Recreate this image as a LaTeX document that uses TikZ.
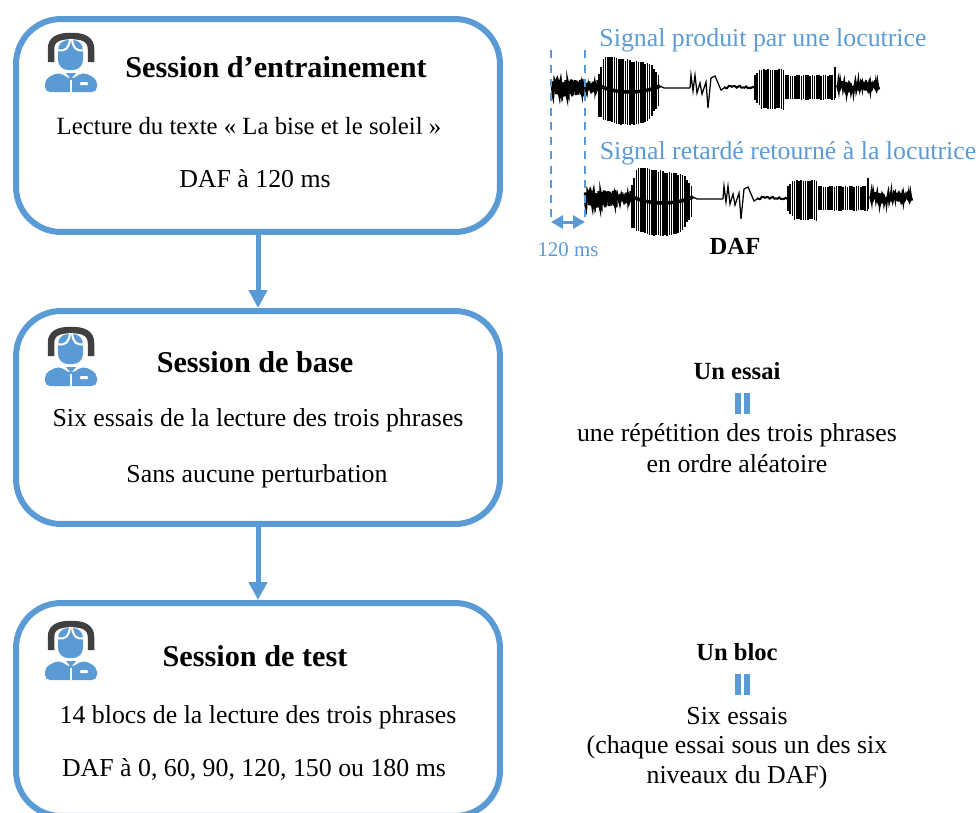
\documentclass[tikz,border=0pt]{standalone}
\usepackage{fontspec}
\setmainfont{Liberation Serif}
\usetikzlibrary{arrows.meta}

\definecolor{daf}{HTML}{5B9BD5}
\definecolor{casque}{HTML}{404040}

\tikzset{
    session/.style={draw=daf, line width=0.12cm, rounded corners=0.9cm, minimum width=9.68cm, minimum height=4.26cm, fill=white},
    titre/.style={font=\fontsize{17.2}{20}\selectfont\bfseries},
    texte/.style={font=\fontsize{14.7}{17}\selectfont},
    gras/.style={font=\fontsize{14}{17}\selectfont\bfseries},
    bleu/.style={text=daf, font=\fontsize{14.7}{17}\selectfont},
    fleche/.style={draw=daf, line width=0.1cm, -{Triangle[length=0.36cm,width=0.36cm]}},
    repere/.style={draw=daf, line width=0.04cm, dash pattern=on 0.16cm off 0.13cm},
    onde/.style={line width=0.03cm, black},
    locutrice/.pic={
        % headphones
        \draw[casque, line width=0.13cm] (-20,0) -- (-20,-13) .. controls (-20,-23) and (-12,-26) .. (0,-26) .. controls (12,-26) and (20,-23) .. (20,-13) -- (20,0);
        % face
        \fill[daf, rounded corners=0.2cm] (-13,-22) rectangle (12,8);
        \draw[white, line width=0.04cm] (-14,-12) .. controls (-5,-10) and (-2,-14) .. (-1,-23);
        \draw[white, line width=0.04cm] (14,-12) .. controls (5,-10) and (2,-14) .. (1,-23);
        % body
        \fill[daf, rounded corners=0.1cm] (-26,30) -- (-26,17) -- (-12,10) -- (0,18) -- (12,10) -- (26,17) -- (26,30) -- cycle;
        \fill[daf] (-5,11) -- (5,11) -- (0,17) -- cycle;
        \draw[white, line width=0.03cm] (0,18) -- (0,30);
        \fill[white, rounded corners=0.02cm] (9,20) rectangle (17,23);
    }
}

% speech signal, x and y in pixels from its start
\newcommand{\signal}{
    \draw[onde, line width=0.05cm] plot[domain=0:32, samples=90] (\x,{9*(2*rnd-1)+2});
    \draw[onde, line width=0.04cm] plot[domain=32:46, samples=25] (\x,{6*(2*rnd-1)});
    \foreach \t in {47,49.2,...,108} {
        \pgfmathsetmacro{\haut}{(\t<52 ? 14+3*(\t-47) : (\t>98 ? 23-(\t-98)*1.2 : 31-8*(\t-52)/46))-2*rnd}
        \pgfmathsetmacro{\bas}{(\t>96 ? 36-(\t-96)*1.5 : 32+8*sin(180*(\t-47)/60))-2*rnd}
        \draw[onde] (\t,-\haut) -- (\t,\bas);
    }
    \draw[onde, line width=0.07cm] (48,0) .. controls (65,8) and (90,8) .. (108,0);
    \draw[onde, line width=0.025cm] (108,0) -- (112,2) -- (126,2) -- (138,2);
    \draw[onde, line width=0.025cm] (138,2) -- (139,-11) -- (141,5) -- (143,-11) -- (145,7) -- (148,-3) -- (150,8) -- (154,-4) -- (156,22) -- (159,-8) -- (163,-10) -- (169,4) -- (172,2);
    \draw[onde, line width=0.04cm] plot[domain=172:202, samples=20] (\x,{1.2*(2*rnd-1)+1});
    \foreach \t in {203,205.2,...,232} {
        \pgfmathsetmacro{\haut}{17-rnd-(\t<208 ? 208-\t : 0)}
        \pgfmathsetmacro{\bas}{24-2*rnd-(\t<210 ? 1.4*(210-\t) : 0)}
        \draw[onde] (\t,-\haut) -- (\t,\bas);
    }
    \foreach \t in {234,236.2,...,283} {
        \pgfmathsetmacro{\haut}{11-rnd}
        \pgfmathsetmacro{\bas}{14-rnd}
        \draw[onde] (\t,-\haut) -- (\t,\bas);
    }
    \draw[onde] (283,-19) -- (283,12);
    \draw[onde, line width=0.05cm] plot[domain=285:327, samples=90] (\x,{(6.5-(\x-285)/14)*(2*rnd-1)+1});
}

\begin{document}
\begin{tikzpicture}[x=0.02cm, y=-0.02cm]
    \useasboundingbox (0,0) rectangle (980,812);
    \clip (0,0) rectangle (980,812);

    % Sessions
    \node[session] (entrainement) at (258,125.5) {};
    \node[session] (base) at (258,417.5) {};
    \node[session] (test) at (258,709.5) {};

    % Arrows between sessions
    \draw[fleche] (entrainement) -- (base);
    \draw[fleche] (base) -- (test);

    % Speakers
    \pic at (71,62) {locutrice};
    \pic at (71,356) {locutrice};
    \pic at (71,650) {locutrice};

    % Text of the sessions
    \node[titre] (t1) at (276,67) {Session d’entrainement};
    \node[texte, font=\fontsize{14.1}{17}\selectfont] (l1) at (249,126) {Lecture du texte « La bise et le soleil »};
    \node[texte] (d1) at (255,179) {DAF à 120 ms};

    \node[titre] (t2) at (255,362) {Session de base};
    \node[texte] (l2) at (258,420) {Six essais de la lecture des trois phrases};
    \node[texte] (d2) at (257,476) {Sans aucune perturbation};

    \node[titre] (t3) at (255,656) {Session de test};
    \node[texte] (l3) at (258,717) {14 blocs de la lecture des trois phrases};
    \node[texte] (d3) at (254,769) {DAF à 0, 60, 90, 120, 150 ou 180 ms};

    % Signals
    \pgfmathsetseed{7}
    \begin{scope}[shift={(552,86)}]
        \signal
    \end{scope}
    \pgfmathsetseed{7}
    \begin{scope}[shift={(585,197)}]
        \signal
    \end{scope}

    \node[bleu] (produit) at (763,40) {Signal produit par une locutrice};
    \node[bleu] (retarde) at (788,153) {Signal retardé retourné à la locutrice};

    % Delay
    \coordinate (a1) at (551,50);
    \coordinate (a2) at (551,222);
    \coordinate (b1) at (585,50);
    \coordinate (b2) at (585,222);
    \draw[repere] (a1) -- (a2);
    \draw[repere] (b1) -- (b2);
    \draw[draw=daf, line width=0.06cm, {Triangle[length=0.24cm,width=0.26cm]}-{Triangle[length=0.24cm,width=0.26cm]}] (a2) -- (b2);
    \node[bleu, font=\fontsize{11.9}{14}\selectfont] (delai) at (568,250) {120 ms};
    \node[gras] (daf) at (735,246) {DAF};

    % One trial
    \node[gras] (essai) at (737,371) {Un essai};
    \fill[daf] (735,393) rectangle (741,414);
    \fill[daf] (744,393) rectangle (750,414);
    \node[texte] (rep1) at (737,435) {une répétition des trois phrases};
    \node[texte] (rep2) at (737,464) {en ordre aléatoire};

    % One block
    \node[gras] (bloc) at (737,652) {Un bloc};
    \fill[daf] (735,674) rectangle (741,695);
    \fill[daf] (744,674) rectangle (750,695);
    \node[texte] (six1) at (737,716) {Six essais};
    \node[texte] (six2) at (737,747) {(chaque essai sous un des six};
    \node[texte] (six3) at (737,777) {niveaux du DAF)};
\end{tikzpicture}
\end{document}
